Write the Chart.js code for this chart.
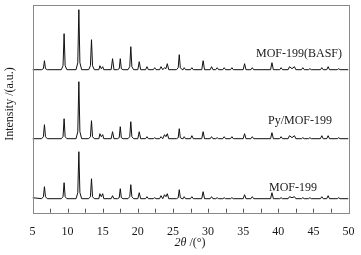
<!DOCTYPE html>
<html lang="en">
<head>
    <meta charset="UTF-8">
    <title>XRD MOF-199</title>
    <script src="https://cdn.jsdelivr.net/npm/chart.js"></script>
    <style>
        body {
            margin: 0;
            padding: 0;
            background-color: #fff;
        }
        .chart-container {
            width: 361px;
            height: 255px;
            position: relative;
        }
    </style>
</head>
<body>
    <div class="chart-container">
        <canvas id="xrdChart"></canvas>
    </div>

    <script>
        // 2theta positions (degrees) shared by all three patterns
        var twoTheta = [5,
            6.3, 6.55, 6.7, 6.85, 7.1,   9.1, 9.35, 9.5, 9.65, 9.9,
            11.2, 11.45, 11.6, 11.75, 12.0,   13.0, 13.25, 13.4, 13.55, 13.8,
            14.45, 14.6, 14.8, 15.0, 15.15,   16.2, 16.4, 16.6,
            17.1, 17.35, 17.5, 17.65, 17.9,   18.6, 18.85, 19.0, 19.15, 19.4,
            20.0, 20.2, 20.4,   21.1, 21.3, 21.5,   22.2, 22.4, 22.6,
            23.1, 23.3, 23.55, 23.8, 24.0, 24.2, 24.4,
            25.5, 25.75, 25.9, 26.05, 26.3,   26.45, 26.6, 26.8,
            27.5, 27.7, 27.9,   29.1, 29.3, 29.5,   30.3, 30.5, 30.7,   31.1, 31.3, 31.5,
            32.1, 32.3, 32.5,   33.2, 33.4, 33.6,   35.0, 35.2, 35.4,   36.1, 36.3, 36.5,
            38.9, 39.1, 39.3,   40.2, 40.4, 40.6,   41.4, 41.6, 41.95, 42.3, 42.5,
            43.3, 43.5, 43.7,   44.3, 44.5, 44.7,   46.0, 46.2, 46.4, 46.9, 47.1, 47.3,
            48.4, 48.6, 48.8,   50];

        // intensities (a.u., stacked)
        var mofBasf = [143,
            143, 144, 152, 144, 143,   143, 147, 179, 147, 143,
            143, 150, 203, 150, 143,   143, 147, 173, 147, 143,
            143, 147, 144, 146, 143,   143, 154, 143,
            143, 144, 154, 144, 143,   143, 146, 166, 146, 143,
            143, 151, 143,   143, 146, 143,   143, 145, 143,
            143, 146, 143, 145, 144, 149, 143,
            143, 145, 158, 145, 143,   143, 145, 143,
            143, 145, 143,   143, 152, 143,   143, 146, 143,   143, 145, 143,
            143, 145, 143,   143, 145, 143,   143, 149, 143,   143, 145, 143,
            143, 150, 143,   143, 145, 143,   143, 146, 144, 146, 143,
            143, 145, 143,   143, 144, 143,   143, 145, 143, 143, 146, 143,
            143, 144, 143,   143];

        var pyMof = [74,
            74, 76, 88, 76, 74,   74, 76, 94, 76, 74,
            74, 81, 131, 81, 74,   74, 76, 92, 76, 74,
            74, 79, 76, 78, 74,   74, 81, 74,
            74, 75, 86, 75, 74,   74, 76, 91, 76, 74,
            74, 81, 74,   74, 76, 74,   74, 75, 74,
            74, 76, 74, 78, 76, 79, 74,
            74, 75, 84, 75, 74,   74, 76, 74,
            74, 77, 74,   74, 81, 74,   74, 76, 74,   74, 75, 74,
            74, 76, 74,   74, 76, 74,   74, 79, 74,   74, 76, 74,
            74, 80, 74,   74, 76, 74,   74, 77, 75, 77, 74,
            74, 75, 74,   74, 75, 74,   74, 77, 74, 74, 77, 74,
            74, 75, 74,   74];

        var mof199 = [15,
            14, 16, 26, 16, 14,   14, 16, 30, 16, 14,
            14, 20, 61, 20, 14,   14, 16, 34, 16, 14,
            14, 19, 16, 19, 14,   14, 17, 14,
            14, 15, 24, 15, 14,   14, 16, 28, 16, 14,
            14, 20, 14,   14, 16, 14,   14, 15, 14,
            14, 17, 14, 18, 16, 19, 14,
            14, 15, 23, 15, 14,   14, 16, 14,
            14, 16, 14,   14, 21, 14,   14, 16, 14,   14, 15, 14,
            14, 15, 14,   14, 15, 14,   14, 18, 14,   14, 16, 14,
            14, 20, 14,   14, 15, 14,   14, 16, 15, 16, 14,
            14, 15, 14,   14, 15, 14,   14, 16, 14, 14, 17, 14,
            14, 15, 14,   14];

        var seriesNames = ['MOF-199(BASF)', 'Py/MOF-199', 'MOF-199'];
        var xTicks = [5, 10, 15, 20, 25, 30, 35, 40, 45, 50];

        function toPoints(ys) {
            return twoTheta.map(function (t, i) { return { x: t, y: ys[i] }; });
        }

        var serif = "'Liberation Serif', 'Times New Roman', serif";

        // frame, inward ticks, curve labels and axis titles
        var decorPlugin = {
            id: 'decor',
            afterDraw: function (chart) {
                var ctx = chart.ctx;
                var a = chart.chartArea;
                var xs = chart.scales.x;
                ctx.save();
                ctx.strokeStyle = '#888';
                ctx.lineWidth = 1;
                ctx.strokeRect(Math.round(a.left) + 0.5, Math.round(a.top) + 0.5,
                    Math.round(a.right - a.left), Math.round(a.bottom - a.top));
                ctx.strokeStyle = '#555';
                for (var v = 7.5; v < 50; v += 2.5) {
                    var px = Math.round(xs.getPixelForValue(v)) + 0.5;
                    ctx.beginPath();
                    ctx.moveTo(px, a.bottom);
                    ctx.lineTo(px, a.bottom - 4);
                    ctx.stroke();
                }
                ctx.fillStyle = '#1a1a1a';
                ctx.font = '12px ' + serif;
                ctx.textAlign = 'center';
                ctx.textBaseline = 'middle';
                ctx.fillText(seriesNames[0], 299, 54);
                ctx.fillText(seriesNames[1], 300, 121);
                ctx.fillText(seriesNames[2], 293, 188);

                // x title: italic 2θ + normal /(°)
                var part1 = '2\u03B8';
                var part2 = ' /(\u00B0)';
                ctx.font = 'italic 12px ' + serif;
                var w1 = ctx.measureText(part1).width;
                ctx.font = '12px ' + serif;
                var w2 = ctx.measureText(part2).width;
                var x0 = 190 - (w1 + w2) / 2;
                ctx.textAlign = 'left';
                ctx.font = 'italic 12px ' + serif;
                ctx.fillText(part1, x0, 243);
                ctx.font = '12px ' + serif;
                ctx.fillText(part2, x0 + w1, 243);

                // y title
                ctx.translate(10, 104);
                ctx.rotate(-Math.PI / 2);
                ctx.textAlign = 'center';
                ctx.fillText('Intensity /(a.u.)', 0, 0);
                ctx.restore();
            }
        };

        var ctxXrd = document.getElementById('xrdChart').getContext('2d');
        var xrdChart = new Chart(ctxXrd, {
            type: 'line',
            data: {
                datasets: [{
                    label: seriesNames[0],
                    data: toPoints(mofBasf)
                }, {
                    label: seriesNames[1],
                    data: toPoints(pyMof)
                }, {
                    label: seriesNames[2],
                    data: toPoints(mof199)
                }]
            },
            options: {
                responsive: true,
                maintainAspectRatio: false,
                animation: false,
                devicePixelRatio: 1,
                layout: {
                    padding: { left: 32.5, right: 12.5, top: 5, bottom: 0 }
                },
                elements: {
                    line: { borderColor: '#111', borderWidth: 1, tension: 0 },
                    point: { radius: 0 }
                },
                plugins: {
                    legend: { display: false },
                    tooltip: { enabled: false }
                },
                scales: {
                    x: {
                        type: 'linear',
                        min: 5,
                        max: 50,
                        afterFit: function (scale) { scale.height = 42.3; },
                        afterBuildTicks: function (scale) {
                            scale.ticks = xTicks.map(function (v) { return { value: v }; });
                        },
                        grid: { display: false },
                        border: { display: false },
                        ticks: {
                            padding: 4,
                            color: '#1a1a1a',
                            maxRotation: 0,
                            autoSkip: false,
                            font: { family: serif, size: 12 }
                        }
                    },
                    y: {
                        display: false,
                        min: 0,
                        max: 207.7
                    }
                }
            },
            plugins: [decorPlugin]
        });
    </script>
</body>
</html>
